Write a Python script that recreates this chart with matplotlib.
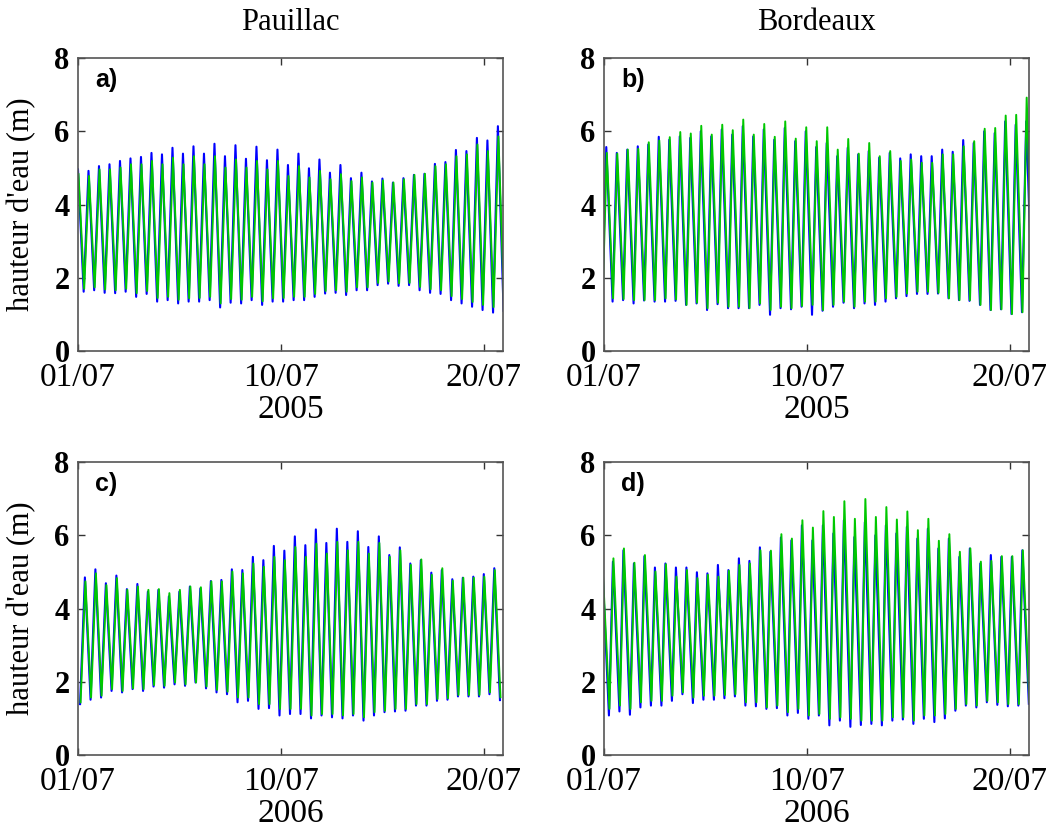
import matplotlib
matplotlib.use("Agg")
import matplotlib.pyplot as plt
import numpy as np

SERIF = ["Liberation Serif", "DejaVu Serif"]
SANS = ["Liberation Sans", "DejaVu Sans"]

# ---------------- labels ----------------
stations = ["Pauillac", "Bordeaux"]
years = ["2005", "2006"]
panel_letters = ["a)", "b)", "c)", "d)"]
y_label = "hauteur d'eau (m)"
tick_days = [0, 10, 20]
tick_labels = ["01/07", "10/07", "20/07"]
y_ticks = [0, 2, 4, 6, 8]

# semi-diurnal tide: time between successive high waters (days)
tide_period_days = 12.42 / 24.0

# ---------------- data (m) ----------------
# a) Pauillac 2005
pau05_blue_high = [4.96, 4.92, 5.05, 5.10, 5.19, 5.26, 5.30, 5.41, 5.37, 5.55,
                   5.39, 5.59, 5.39, 5.66, 5.32, 5.62, 5.25, 5.58, 5.21, 5.50,
                   5.08, 5.39, 4.99, 5.23, 4.87, 5.08, 4.72, 4.87, 4.63, 4.71,
                   4.60, 4.72, 4.81, 4.84, 5.11, 5.16, 5.49, 5.46, 5.82, 5.75, 6.14]
pau05_green_high = [4.83, 4.78, 4.96, 4.96, 5.01, 5.10, 5.10, 5.19, 5.10, 5.28,
                    5.10, 5.32, 5.10, 5.32, 5.01, 5.23, 5.01, 5.19, 4.96, 5.19,
                    4.78, 5.05, 4.74, 4.92, 4.69, 4.83, 4.64, 4.74, 4.60, 4.66,
                    4.60, 4.69, 4.81, 4.84, 5.05, 5.10, 5.32, 5.37, 5.64, 5.46, 5.86]
pau05_blue_low = [1.62, 1.66, 1.59, 1.58, 1.62, 1.48, 1.56, 1.35, 1.39, 1.30,
                  1.35, 1.35, 1.39, 1.19, 1.32, 1.30, 1.39, 1.26, 1.35, 1.35,
                  1.39, 1.39, 1.48, 1.57, 1.59, 1.53, 1.66, 1.66, 1.80, 1.84,
                  1.78, 1.80, 1.66, 1.59, 1.56, 1.39, 1.30, 1.21, 1.12, 1.05, 1.10]
pau05_green_low = [1.70, 1.74, 1.68, 1.66, 1.70, 1.58, 1.64, 1.45, 1.48, 1.40,
                   1.44, 1.45, 1.48, 1.30, 1.42, 1.40, 1.48, 1.36, 1.44, 1.45,
                   1.48, 1.48, 1.56, 1.64, 1.66, 1.62, 1.74, 1.74, 1.86, 1.90,
                   1.85, 1.86, 1.75, 1.69, 1.66, 1.50, 1.42, 1.34, 1.26, 1.20, 1.25]

# b) Bordeaux 2005
bdx05_blue_high = [5.57, 5.41, 5.50, 5.59, 5.64, 5.85, 5.77, 5.86, 5.82, 6.00,
                   5.86, 6.05, 5.91, 6.14, 5.86, 6.05, 5.77, 6.09, 5.73, 6.00,
                   5.57, 5.68, 5.32, 5.55, 5.37, 5.46, 5.28, 5.41, 5.26, 5.37,
                   5.32, 5.32, 5.50, 5.44, 5.76, 5.68, 6.00, 5.95, 6.27, 6.18, 6.27]
bdx05_green_high = [5.41, 5.39, 5.50, 5.52, 5.70, 5.75, 5.84, 5.98, 5.94, 6.15,
                    5.91, 6.18, 6.03, 6.32, 5.91, 6.20, 5.85, 6.27, 5.80, 6.11,
                    5.73, 6.11, 5.50, 5.79, 5.39, 5.68, 5.32, 5.46, 5.19, 5.23,
                    5.14, 5.14, 5.37, 5.37, 5.59, 5.73, 6.07, 6.09, 6.43, 6.45, 6.92]
bdx05_blue_low = [1.35, 1.39, 1.30, 1.38, 1.35, 1.35, 1.37, 1.26, 1.30, 1.12,
                  1.28, 1.17, 1.17, 1.17, 1.26, 0.99, 1.17, 1.14, 1.21, 0.99,
                  1.10, 1.21, 1.32, 1.17, 1.30, 1.26, 1.35, 1.44, 1.50, 1.56,
                  1.56, 1.57, 1.44, 1.39, 1.37, 1.26, 1.12, 1.14, 1.01, 1.06, 1.20]
bdx05_green_low = [1.44, 1.42, 1.39, 1.39, 1.39, 1.44, 1.41, 1.26, 1.32, 1.17,
                   1.32, 1.21, 1.21, 1.17, 1.30, 1.12, 1.21, 1.17, 1.23, 1.26,
                   1.12, 1.26, 1.35, 1.21, 1.35, 1.35, 1.44, 1.48, 1.57, 1.62,
                   1.62, 1.59, 1.44, 1.39, 1.39, 1.26, 1.12, 1.14, 1.01, 1.06, 1.20]
bdx05_first_low = [1.40, 1.45]  # blue, green (before first high water)

# c) Pauillac 2006
pau06_blue_high = [4.85, 5.07, 4.69, 4.90, 4.53, 4.67, 4.46, 4.51, 4.33, 4.46,
                   4.60, 4.55, 4.75, 4.78, 5.07, 5.05, 5.41, 5.32, 5.71, 5.58,
                   5.97, 5.73, 6.16, 5.79, 6.18, 5.82, 6.11, 5.68, 5.97, 5.46,
                   5.67, 5.23, 5.32, 4.98, 5.05, 4.80, 4.84, 4.87, 4.94, 5.10]
pau06_green_high = [4.74, 4.96, 4.64, 4.83, 4.51, 4.60, 4.51, 4.53, 4.42, 4.51,
                    4.60, 4.58, 4.74, 4.74, 5.01, 4.96, 5.23, 5.14, 5.41, 5.32,
                    5.68, 5.41, 5.77, 5.50, 5.82, 5.59, 5.82, 5.50, 5.79, 5.41,
                    5.59, 5.19, 5.34, 4.92, 5.10, 4.76, 4.84, 4.84, 4.87, 5.05]
pau06_blue_low = [1.51, 1.57, 1.75, 1.71, 1.80, 1.75, 1.87, 1.84, 1.93, 1.89,
                  1.98, 1.82, 1.71, 1.66, 1.44, 1.48, 1.26, 1.28, 1.08, 1.12,
                  1.12, 1.00, 1.08, 1.03, 1.00, 1.08, 0.94, 1.08, 1.17, 1.19,
                  1.21, 1.35, 1.35, 1.48, 1.51, 1.60, 1.60, 1.60, 1.66, 1.50]
pau06_green_low = [1.57, 1.62, 1.80, 1.75, 1.82, 1.80, 1.91, 1.89, 1.98, 1.93,
                   1.98, 1.87, 1.78, 1.73, 1.57, 1.57, 1.39, 1.39, 1.26, 1.26,
                   1.26, 1.08, 1.12, 1.12, 1.08, 1.12, 1.03, 1.17, 1.21, 1.26,
                   1.26, 1.39, 1.39, 1.53, 1.55, 1.64, 1.64, 1.64, 1.71, 1.58]
pau06_first_low = [1.39, 1.44]

# d) Bordeaux 2006
bdx06_blue_high = [5.10, 5.28, 5.59, 5.23, 5.43, 5.12, 5.23, 5.12, 5.12, 4.99,
                   4.96, 5.19, 5.05, 5.37, 5.30, 5.67, 5.55, 5.94, 5.86, 6.27,
                   5.86, 6.27, 6.05, 6.41, 5.95, 6.36, 6.00, 6.27, 6.05, 6.23,
                   5.91, 6.18, 5.64, 5.91, 5.41, 5.64, 5.23, 5.46, 5.41, 5.41, 5.59]
bdx06_green_high = [4.95, 5.37, 5.64, 5.25, 5.46, 5.01, 5.21, 4.87, 5.05, 4.83,
                    4.92, 4.87, 5.03, 5.19, 5.23, 5.59, 5.58, 6.03, 5.91, 6.41,
                    6.21, 6.66, 6.50, 6.93, 6.45, 6.99, 6.50, 6.77, 6.43, 6.65,
                    6.14, 6.45, 5.85, 6.03, 5.55, 5.64, 5.28, 5.30, 5.43, 5.43, 5.59]
bdx06_blue_low = [1.08, 1.19, 1.10, 1.30, 1.35, 1.35, 1.48, 1.66, 1.42, 1.51,
                  1.51, 1.55, 1.60, 1.35, 1.33, 1.26, 1.28, 1.08, 1.15, 0.99,
                  1.08, 0.81, 0.94, 0.77, 0.82, 0.85, 0.81, 0.94, 0.97, 0.85,
                  0.99, 0.90, 1.00, 1.21, 1.35, 1.30, 1.44, 1.37, 1.33, 1.35, 1.40]
bdx06_green_low = [1.26, 1.35, 1.26, 1.44, 1.48, 1.48, 1.62, 1.71, 1.57, 1.62,
                   1.62, 1.64, 1.66, 1.44, 1.44, 1.30, 1.35, 1.17, 1.26, 1.08,
                   1.12, 0.99, 1.03, 0.99, 0.94, 0.94, 0.94, 1.03, 1.03, 0.94,
                   1.08, 1.08, 1.12, 1.26, 1.39, 1.35, 1.48, 1.44, 1.39, 1.39, 1.45]

# timing of each panel: first high water (days after 01/07) and fraction of
# the tidal period from high water to the following low water
first_high_day = [0.00, 0.11, 0.34, -0.08]
ebb_fraction = [0.54, 0.60, 0.54, 0.62]
green_lag_day = 0.025

panels = [
    (pau05_blue_high, pau05_blue_low, pau05_green_high, pau05_green_low, None),
    (bdx05_blue_high, bdx05_blue_low, bdx05_green_high, bdx05_green_low, bdx05_first_low),
    (pau06_blue_high, pau06_blue_low, pau06_green_high, pau06_green_low, pau06_first_low),
    (bdx06_blue_high, bdx06_blue_low, bdx06_green_high, bdx06_green_low, None),
]


def tide_series(highs, lows, t0, ebb, first_low):
    t, v = [], []
    if first_low is not None:
        t.append(t0 - (1 - ebb) * tide_period_days)
        v.append(first_low)
    for k, (h, l) in enumerate(zip(highs, lows)):
        th = t0 + k * tide_period_days
        t += [th, th + ebb * tide_period_days]
        v += [h, l]
    return np.array(t), np.array(v)


fig = plt.figure(figsize=(10.54, 8.39), dpi=100)
positions = [
    [0.074, 0.5816, 0.4032, 0.3492],
    [0.5731, 0.5816, 0.4032, 0.3492],
    [0.074, 0.1001, 0.4032, 0.3492],
    [0.5731, 0.1001, 0.4032, 0.3492],
]

for i, pos in enumerate(positions):
    ax = fig.add_axes(pos)
    bh, bl, gh, gl, fl = panels[i]
    tb, vb = tide_series(bh, bl, first_high_day[i], ebb_fraction[i],
                         None if fl is None else fl[0])
    tg, vg = tide_series(gh, gl, first_high_day[i] + green_lag_day,
                         ebb_fraction[i], None if fl is None else fl[1])
    ax.plot(tb, vb, color="#0000ff", lw=1.5)
    ax.plot(tg, vg, color="#00c800", lw=1.4)

    ax.set_xlim(0, 20.95)
    ax.set_ylim(0, 8)
    ax.set_xticks(tick_days)
    ax.set_xticklabels(tick_labels, fontfamily=SERIF, fontsize=24)
    ax.set_yticks(y_ticks)
    ax.set_yticklabels([str(y) for y in y_ticks], fontfamily=SERIF,
                       fontweight="bold", fontsize=22)
    ax.tick_params(direction="in", top=True, right=True, length=5, width=1,
                   color="#333333")
    ax.tick_params(axis="x", pad=8)
    ax.tick_params(axis="y", pad=6)
    for sp in ax.spines.values():
        sp.set_color("#555555")
        sp.set_linewidth(1.2)

    ax.text(0.04, 0.925, panel_letters[i], transform=ax.transAxes,
            fontfamily=SANS, fontsize=18, fontweight="bold", va="center", ha="left")

    ax.set_xlabel(years[i // 2], fontfamily=SERIF, fontsize=24, va="center")
    ax.xaxis.set_label_coords(0.5, -0.20)

    if i < 2:
        ax.text(0.5, 1.123, stations[i], transform=ax.transAxes, ha="center",
                va="center", fontfamily=SERIF, fontsize=22)
    if i % 2 == 0:
        ax.set_ylabel(y_label, fontfamily=SERIF, fontsize=22, va="center")
        ax.yaxis.set_label_coords(-0.132, 0.5)

fig.savefig("out.png", dpi=100)
